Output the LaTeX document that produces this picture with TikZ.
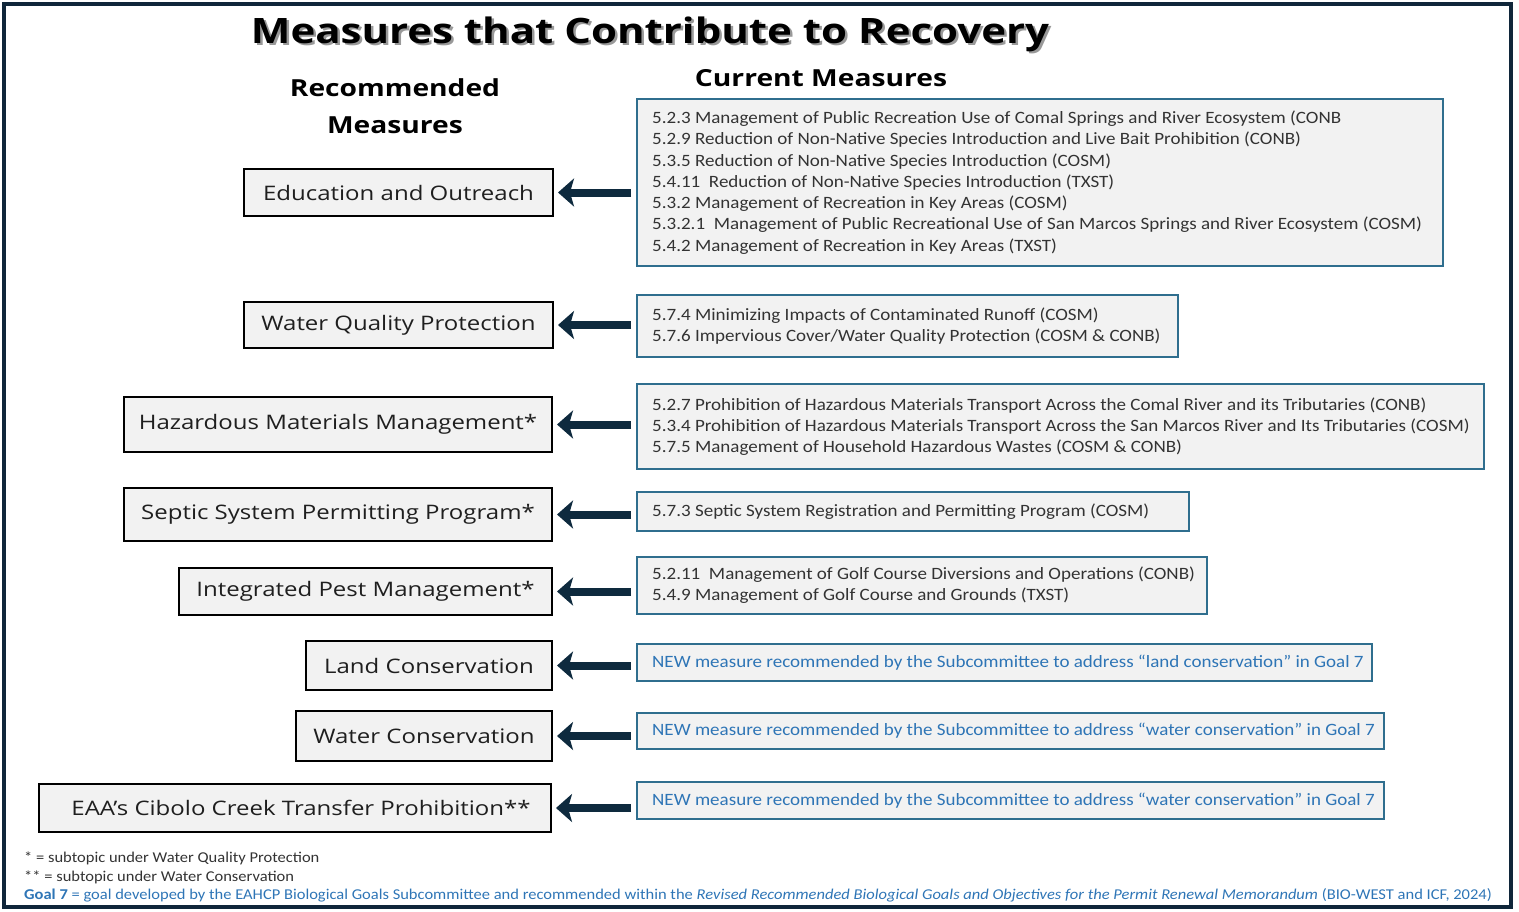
\documentclass[tikz,border=0pt]{standalone}
\usepackage{fontspec}
\setmainfont{Open Sans}[FakeStretch=1.2]
\newfontfamily\narrowfont{Carlito}[FakeStretch=1.1]
\usetikzlibrary{arrows.meta,positioning}

\definecolor{frameblue}{HTML}{10263A}
\definecolor{arrowblue}{HTML}{0E2A3E}
\definecolor{steelline}{HTML}{2F6E8E}
\definecolor{boxgray}{HTML}{F2F2F2}
\definecolor{newblue}{HTML}{2E75B6}
\definecolor{textgray}{HTML}{333333}

\tikzset{
  recbox/.style={draw=black, fill=boxgray, line width=2pt, text=black!88, font=\fontsize{20}{24}\selectfont},
  curbox/.style={draw=steelline, fill=boxgray, line width=2pt},
  curtext/.style={anchor=west, xshift=16pt, inner sep=0pt, align=left, text=textgray, font=\narrowfont\fontsize{17.3}{21.3}\selectfont},
  newtext/.style={curtext, text=newblue},
  feeds/.style={draw=arrowblue, line width=8pt, -{Stealth[length=16pt,width=28pt,inset=4pt]}, shorten <=5pt, shorten >=4pt},
  heading/.style={font=\bfseries\fontsize{23.5}{37}\selectfont, align=center},
  notetext/.style={anchor=west, inner sep=0pt, text=textgray, font=\narrowfont\fontsize{15}{18}\selectfont}
}

\begin{document}
\begin{tikzpicture}[x=1pt, y=-1pt]
  \useasboundingbox (0,0) rectangle (1519,911);
  % outer frame
  \draw[frameblue, line width=4.5pt] (4,4) rectangle (1511,907);

  % title and headings
  \node[text=black!40, font=\bfseries\fontsize{35}{40}\selectfont] (titleshadow) at (652.5,36.5) {Measures that Contribute to Recovery};
  \node[font=\bfseries\fontsize{35}{40}\selectfont] (title) at (650,34) {Measures that Contribute to Recovery};
  \node[heading] (rechead) at (395,106) {Recommended\\Measures};
  \node[heading] (curhead) at (821,78) {Current Measures};

  % recommended measures
  \node[recbox, minimum width=309, minimum height=47] (l1) at (398.5,192.5) {Education and Outreach};
  \node[recbox, minimum width=309, minimum height=46] (l2) at (398.5,325) {Water Quality Protection};
  \node[recbox, minimum width=428, minimum height=55] (l3) at (338,424.5) {Hazardous Materials Management*};
  \node[recbox, minimum width=428, minimum height=53] (l4) at (338,514.5) {Septic System Permitting Program*};
  \node[recbox, minimum width=373, minimum height=47] (l5) at (365.5,591.5) {Integrated Pest Management*};
  \node[recbox, minimum width=246, minimum height=49] (l6) at (429,665.5) {Land Conservation};
  \node[recbox, minimum width=256, minimum height=50] (l7) at (424,736) {Water Conservation};
  \node[recbox, minimum width=512, minimum height=48] (l8) at (295,808) {\hspace{12pt}EAA's Cibolo Creek Transfer Prohibition**};

  % current measures
  \node[curbox, minimum width=806, minimum height=167, label={[curtext]west:{%
    5.2.3 Management of Public Recreation Use of Comal Springs and River Ecosystem (CONB\\
    5.2.9 Reduction of Non-Native Species Introduction and Live Bait Prohibition (CONB)\\
    5.3.5 Reduction of Non-Native Species Introduction (COSM)\\
    5.4.11\ \ Reduction of Non-Native Species Introduction (TXST)\\
    5.3.2 Management of Recreation in Key Areas (COSM)\\
    5.3.2.1\ \ Management of Public Recreational Use of San Marcos Springs and River Ecosystem (COSM)\\
    5.4.2 Management of Recreation in Key Areas (TXST)}}] (r1) at (1040,182.5) {};
  \node[curbox, minimum width=541, minimum height=62, label={[curtext]west:{%
    5.7.4 Minimizing Impacts of Contaminated Runoff (COSM)\\
    5.7.6 Impervious Cover/Water Quality Protection (COSM \& CONB)}}] (r2) at (907.5,326) {};
  \node[curbox, minimum width=847, minimum height=85, label={[curtext]west:{%
    5.2.7 Prohibition of Hazardous Materials Transport Across the Comal River and its Tributaries (CONB)\\
    5.3.4 Prohibition of Hazardous Materials Transport Across the San Marcos River and Its Tributaries (COSM)\\
    5.7.5 Management of Household Hazardous Wastes (COSM \& CONB)}}] (r3) at (1060.5,426.5) {};
  \node[curbox, minimum width=552, minimum height=39, label={[curtext]west:{%
    5.7.3 Septic System Registration and Permitting Program (COSM)}}] (r4) at (913,511.5) {};
  \node[curbox, minimum width=570, minimum height=57, label={[curtext]west:{%
    5.2.11\ \ Management of Golf Course Diversions and Operations (CONB)\\
    5.4.9 Management of Golf Course and Grounds (TXST)}}] (r5) at (922,585.5) {};
  \node[curbox, minimum width=735, minimum height=37, label={[newtext]west:{%
    NEW measure recommended by the Subcommittee to address “land conservation” in Goal 7}}] (r6) at (1004.5,662.5) {};
  \node[curbox, minimum width=747, minimum height=36, label={[newtext]west:{%
    NEW measure recommended by the Subcommittee to address “water conservation” in Goal 7}}] (r7) at (1010.5,731) {};
  \node[curbox, minimum width=747, minimum height=37, label={[newtext]west:{%
    NEW measure recommended by the Subcommittee to address “water conservation” in Goal 7}}] (r8) at (1010.5,800.5) {};

  % arrows
  \foreach \i in {1,...,8}
    \draw[feeds] (r\i.west |- l\i.east) -- (l\i.east);

  % notes
  \node[notetext] (note1) at (24,858) {* = subtopic under Water Quality Protection};
  \node[notetext] (note2) at (24,877) {** = subtopic under Water Conservation};
  \node[notetext, text=newblue] (note3) at (24,895) {\textbf{Goal 7} = goal developed by the EAHCP Biological Goals Subcommittee and recommended within the \textit{Revised Recommended Biological Goals and Objectives for the Permit Renewal Memorandum} (BIO-WEST and ICF, 2024)};
\end{tikzpicture}
\end{document}
